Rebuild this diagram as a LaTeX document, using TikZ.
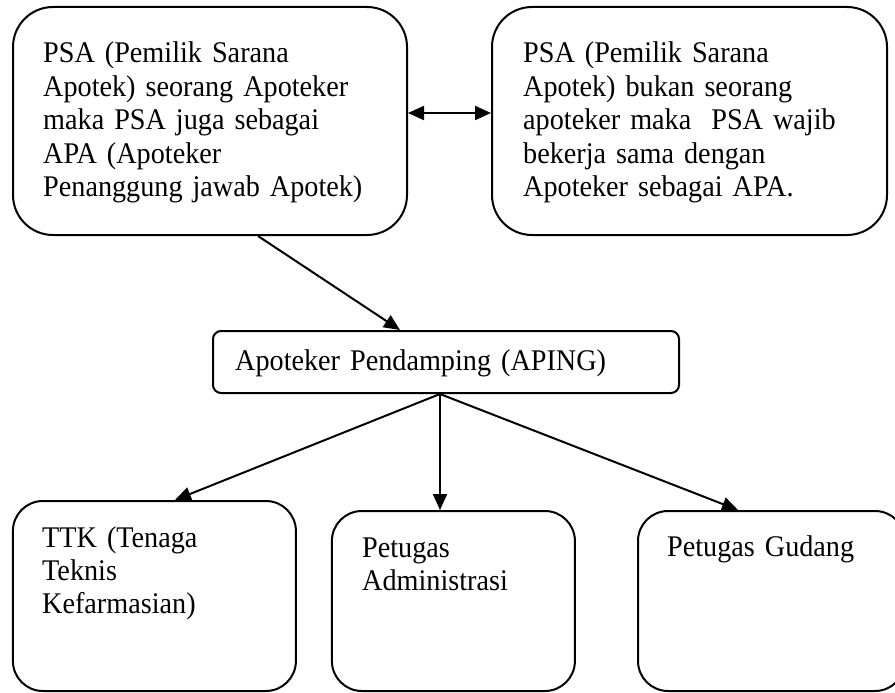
\documentclass[tikz,border=0pt]{standalone}
\usepackage{fontspec}
\setmainfont{Liberation Serif}[FakeStretch=0.94]
\usetikzlibrary{arrows.meta}
\begin{document}
\begin{tikzpicture}[x=1pt,y=-1pt,
  box/.style={draw,line width=2pt,inner sep=0pt,rounded corners=#1},
  box/.default=40pt,
  txt/.style={anchor=base west,inner sep=0pt,align=left,text width=600pt,
    font=\fontsize{30}{33.4}\selectfont},
  conn/.style={line width=2pt,-{Triangle[length=16pt,width=14pt]}},
  dconn/.style={line width=2pt,{Triangle[length=16pt,width=14pt]}-{Triangle[length=16pt,width=14pt]}}]
\useasboundingbox (0,0) rectangle (895,693);
\clip (0,0) rectangle (895,693);
% boxes
\node[box,minimum width=394pt,minimum height=228pt] (tl) at (210,121) {};
\node[box,minimum width=395pt,minimum height=228pt] (tr) at (689.5,121) {};
\node[box=8pt,minimum width=466pt,minimum height=62pt] (mid) at (446,362) {};
\node[box=30pt,minimum width=283pt,minimum height=190pt] (bl) at (154.4,596) {};
\node[box=30pt,minimum width=243pt,minimum height=180pt] (bm) at (453.4,601) {};
\node[box=30pt,minimum width=267pt,minimum height=180pt] (br) at (771.5,601) {};
% texts
\node[txt] (tltext) at (43,63) {PSA (Pemilik Sarana\\Apotek) seorang Apoteker\\maka PSA juga sebagai\\APA (Apoteker\\Penanggung jawab Apotek)};
\node[txt] (trtext) at (523,63) {PSA (Pemilik Sarana\\Apotek) bukan seorang\\apoteker maka \ PSA wajib\\bekerja sama dengan\\Apoteker sebagai APA.};
\node[txt] (midtext) at (235,370) {Apoteker Pendamping (APING)};
\node[txt] (bltext) at (42,547) {TTK (Tenaga\\Teknis\\Kefarmasian)};
\node[txt] (bmtext) at (362,557) {Petugas\\Administrasi};
\node[txt] (brtext) at (667,556) {Petugas Gudang};
% helper coordinates
\coordinate (hy) at (0,113);
\coordinate (h1) at (258,0);
\coordinate (h2) at (400,0);
\coordinate (h3) at (440,0);
\coordinate (h4) at (175,0);
\coordinate (h5) at (738,0);
% connectors
\draw[dconn] (tl.east |- hy) -- (tr.west |- hy);
\draw[conn] (tl.south -| h1) -- (mid.north -| h2);
\draw[conn] (mid.south -| h3) -- (bl.north -| h4);
\draw[conn] (mid.south -| h3) -- (bm.north -| h3);
\draw[conn] (mid.south -| h3) -- (br.north -| h5);
\end{tikzpicture}
\end{document}
